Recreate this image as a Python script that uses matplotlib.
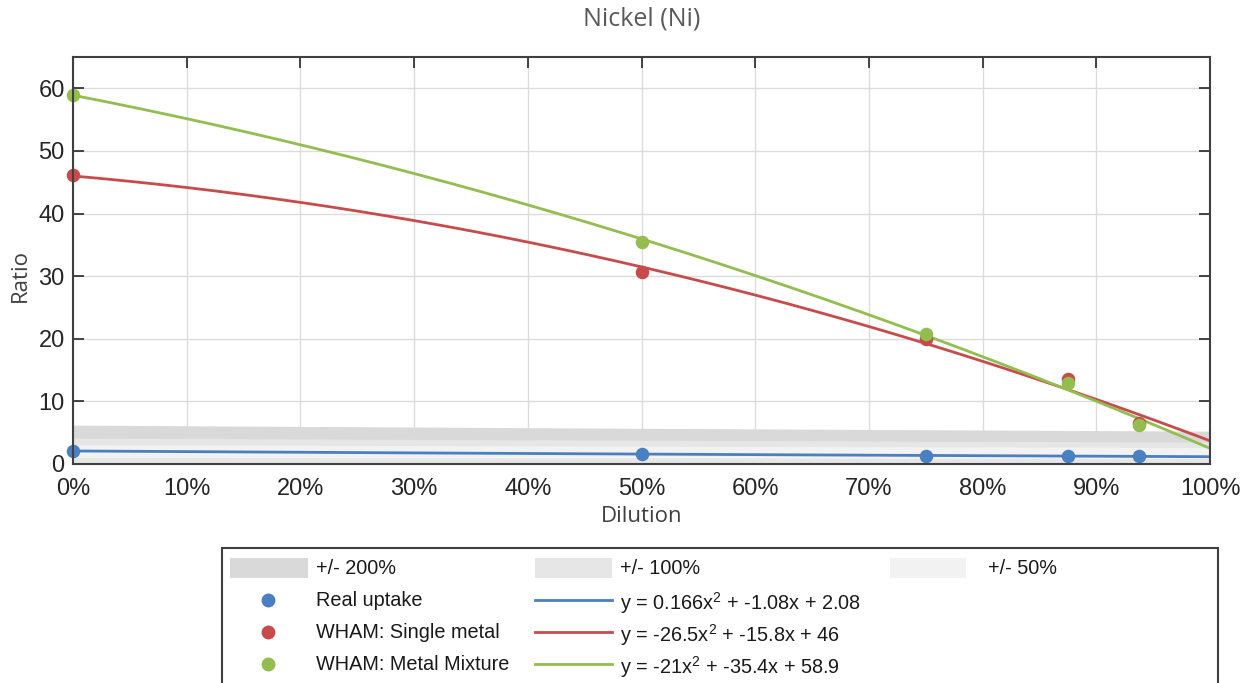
import numpy as np
import matplotlib
matplotlib.use("Agg")
import matplotlib.pyplot as plt
from matplotlib.patches import Rectangle
from matplotlib.lines import Line2D

# ---- data ----
dilution = [0.0, 0.5, 0.75, 0.875, 0.9375]
real_uptake = [2.0, 1.6, 1.3, 1.3, 1.2]
wham_single = [46.2, 30.7, 20.0, 13.5, 6.5]
wham_mixture = [59.0, 35.5, 20.8, 13.0, 6.3]

# quadratic fit coefficients (a, b, c) for y = a x^2 + b x + c
fit_real = [0.166, -1.08, 2.08]
fit_single = [-26.5, -15.8, 46.0]
fit_mixture = [-21.0, -35.4, 58.9]

# centre of the tolerance bands
band_x = [0.0, 0.5, 1.0]
band_center = [2.07, 1.9, 1.75]
band_factors = [2.0, 1.0, 0.5]

fit_labels = [r"y = 0.166$\mathregular{x^2}$ + -1.08x + 2.08",
              r"y = -26.5$\mathregular{x^2}$ + -15.8x + 46",
              r"y = -21$\mathregular{x^2}$ + -35.4x + 58.9"]
series_labels = ["Real uptake", "WHAM: Single metal", "WHAM: Metal Mixture"]
band_labels = ["+/- 200%", "+/- 100%", "+/- 50%"]
xticks = [0, 0.1, 0.2, 0.3, 0.4, 0.5, 0.6, 0.7, 0.8, 0.9, 1.0]
xticklabels = ["0%", "10%", "20%", "30%", "40%", "50%", "60%", "70%", "80%", "90%", "100%"]
yticks = [0, 10, 20, 30, 40, 50, 60]

c_blue = "#4a7fc1"
c_red = "#c84b4b"
c_green = "#93bd4e"
series_colors = [c_blue, c_red, c_green]
band_colors = ["#d9d9d9", "#e6e6e6", "#f2f2f2"]

plt.rcParams["mathtext.fontset"] = "custom"
plt.rcParams["mathtext.rm"] = "Liberation Sans"

fig = plt.figure(figsize=(12.5, 6.83), dpi=100)
W, H = 1250, 683
ax = fig.add_axes([73 / W, 1 - 464 / H, (1210 - 73) / W, (464 - 57) / H])

xs = np.linspace(0, 1, 200)
def poly(c, x):
    return c[0] * x ** 2 + c[1] * x + c[2]

base = np.interp(xs, band_x, band_center)
for f, col in zip(band_factors, band_colors):
    ax.fill_between(xs, base * (1 - f), base * (1 + f), color=col, lw=0, zorder=1)

for c, col in zip([fit_real, fit_single, fit_mixture], series_colors):
    ax.plot(xs, poly(c, xs), color=col, lw=2, zorder=3)

for ys, col, z in zip([real_uptake, wham_single, wham_mixture], series_colors, [4, 4, 5]):
    ax.scatter(dilution, ys, s=95, color=col, zorder=z, clip_on=False, lw=0)

ax.set_xlim(0, 1)
ax.set_ylim(0, 65)
ax.set_xticks(xticks)
ax.set_xticklabels(xticklabels)
ax.set_yticks(yticks)
ax.grid(True, color="#dcdcdc", lw=1, zorder=0)
ax.set_axisbelow(True)
for s in ax.spines.values():
    s.set_color("#404040")
    s.set_linewidth(1.5)
    s.set_zorder(6)
ax.tick_params(direction="in", length=8, width=1.2, color="#262626",
               top=True, right=True, labelsize=17, labelcolor="#262626")
ax.tick_params(axis="x", pad=10)
ax.tick_params(axis="y", pad=6)
for lab in ax.get_xticklabels() + ax.get_yticklabels():
    lab.set_family("Liberation Sans")

fig.text(642 / W, 1 - 517 / H, "Dilution", ha="center", va="center",
         fontsize=16, family="Open Sans", color="#404040")
fig.text(20 / W, 1 - 275 / H, "Ratio", ha="center", va="center", rotation=90,
         fontsize=16, family="Open Sans", color="#404040")
fig.text(642 / W, 1 - 19 / H, "Nickel (Ni)", ha="center", va="center",
         fontsize=18, family="Open Sans", color="#595959")

# ---- legend (drawn by hand to follow the reference layout) ----
def fx(px):
    return px / W
def fy(py):
    return 1 - py / H

fig.add_artist(Rectangle((fx(222), fy(700)), fx(1218) - fx(222), fy(548) - fy(700),
                         transform=fig.transFigure, facecolor="white",
                         edgecolor="#404040", lw=1.5, zorder=1))
row_y = [568, 600, 632, 664]
patch_x = [(230, 308), (535, 612), (890, 966)]
text_x = [316, 620, 988]
lfont = dict(family="Liberation Sans", fontsize=14.3, color="#1a1a1a")
for (x0, x1), tx, col, lab in zip(patch_x, text_x, band_colors, band_labels):
    fig.add_artist(Rectangle((fx(x0), fy(row_y[0] + 10)), fx(x1) - fx(x0), fy(row_y[0] - 10) - fy(row_y[0] + 10),
                             transform=fig.transFigure, facecolor=col, lw=0, zorder=2))
    fig.text(fx(tx), fy(row_y[0]), lab, ha="left", va="center", zorder=3, **lfont)
for i in range(3):
    y = row_y[i + 1]
    fig.add_artist(Line2D([fx(268)], [fy(y)], transform=fig.transFigure, ls="none",
                          marker="o", ms=10, mew=0, color=series_colors[i], zorder=3))
    fig.text(fx(316), fy(y), series_labels[i], ha="left", va="center", zorder=3, **lfont)
    fig.add_artist(Line2D([fx(535), fx(612)], [fy(y), fy(y)], transform=fig.transFigure,
                          color=series_colors[i], lw=2, zorder=3))
    fig.text(fx(620), fy(y + 3), fit_labels[i], ha="left", va="center", zorder=3, **lfont)

fig.savefig("out.png", dpi=100)
